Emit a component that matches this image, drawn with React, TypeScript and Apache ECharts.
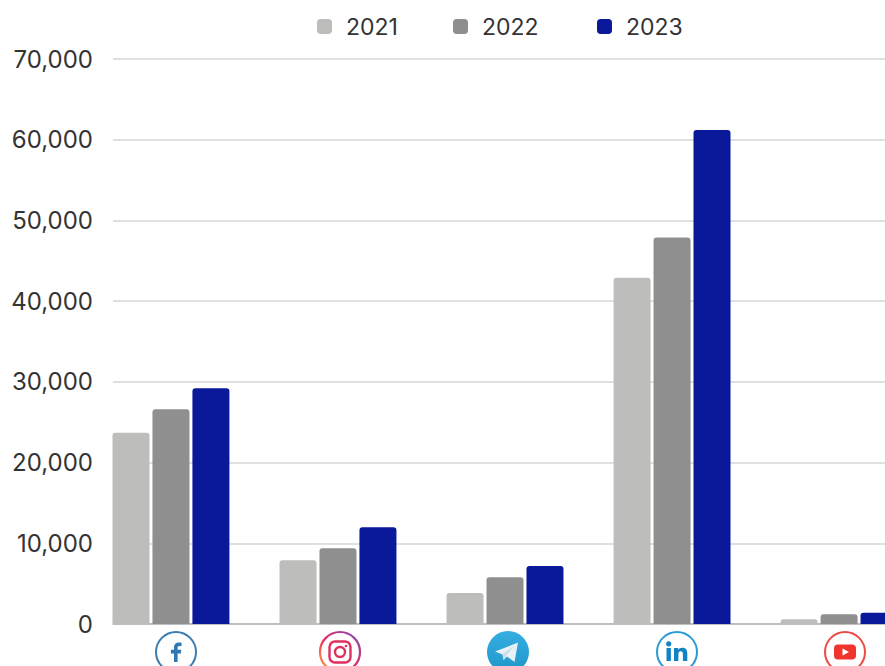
import React, { useEffect, useRef } from "react";
import * as echarts from "echarts";

const platforms = ["Facebook", "Instagram", "Telegram", "LinkedIn", "YouTube"];
const seriesNames = ["2021", "2022", "2023"];
const values2021 = [23700, 7900, 3850, 42900, 600];
const values2022 = [26600, 9400, 5800, 47900, 1200];
const values2023 = [29200, 12000, 7200, 61200, 1400];
const yTicks = [0, 10000, 20000, 30000, 40000, 50000, 60000, 70000];

const svg = (body: string) =>
  "data:image/svg+xml;charset=utf-8," +
  encodeURIComponent(`<svg xmlns="http://www.w3.org/2000/svg" width="44" height="44" viewBox="0 0 44 44">${body}</svg>`);

const iconFacebook = svg(
  `<circle cx="22" cy="22" r="20" fill="#fff" stroke="#3b7cb0" stroke-width="2"/><path d="M23.6 32V23.4h3.2l.5-3.6h-3.7v-2.1c0-1.1.4-1.8 1.9-1.8h2V12.7c-.5-.1-1.6-.2-2.8-.2-2.8 0-4.7 1.7-4.7 4.7v2.6h-3.1v3.6h3.1V32z" fill="#2f78b2"/>`
);
const iconInstagram = svg(
  `<defs><linearGradient id="g" x1="0" y1="1" x2="1" y2="0"><stop offset="0" stop-color="#fdb23c"/><stop offset="0.45" stop-color="#ee2a5f"/><stop offset="1" stop-color="#7f4bb8"/></linearGradient></defs><circle cx="22" cy="22" r="20" fill="#fff" stroke="url(#g)" stroke-width="2.2"/><rect x="11.5" y="11.5" width="21" height="21" rx="5.5" fill="none" stroke="#e0305f" stroke-width="2.4"/><circle cx="22" cy="22" r="5" fill="none" stroke="#e0305f" stroke-width="2.4"/><circle cx="28" cy="16" r="1.3" fill="#d0307a"/>`
);
const iconTelegram = svg(
  `<defs><linearGradient id="t" x1="0.5" y1="0" x2="0.5" y2="1"><stop offset="0" stop-color="#37aee2"/><stop offset="1" stop-color="#1e96c8"/></linearGradient></defs><circle cx="22" cy="22" r="21" fill="url(#t)"/><path d="M9 21.5 32 12.5 28.5 32 21 26.5 17.5 30 16.5 24.5z" fill="#e6f1f8"/><path d="M16.5 24.5 28 16 20 25.5 17.5 30z" fill="#c8dae8"/>`
);
const iconLinkedIn = svg(
  `<circle cx="22" cy="22" r="20" fill="#fff" stroke="#2a9bd6" stroke-width="2"/><rect x="11.5" y="18" width="4.4" height="13" fill="#1282c4"/><circle cx="13.7" cy="13.8" r="2.6" fill="#1282c4"/><path d="M19 18h4.2v1.9c.8-1.3 2.2-2.2 4.2-2.2 3.4 0 4.9 2.1 4.9 5.6V31h-4.4v-7c0-1.8-.6-2.8-2.2-2.8-1.6 0-2.3 1.1-2.3 2.8v7H19z" fill="#1282c4"/>`
);
const iconYouTube = svg(
  `<circle cx="22" cy="22" r="20" fill="#fff" stroke="#ef4b45" stroke-width="2"/><rect x="11" y="14.5" width="22" height="15" rx="4" fill="#f0352e"/><path d="M19.5 18.5 26 22l-6.5 3.5z" fill="#fff"/>`
);
const icons = [iconFacebook, iconInstagram, iconTelegram, iconLinkedIn, iconYouTube];
const iconCentres = [176, 340, 508, 677, 845];
const legendLefts = [317, 453, 597];

const FONT = "Inter";

export default function App() {
  const ref = useRef<HTMLDivElement>(null);
  useEffect(() => {
    document.body.style.margin = "0";
    const chart = echarts.init(ref.current!, null, { renderer: "svg" });
    const bar = (name: string, data: number[], color: string) => ({
      name,
      type: "bar" as const,
      data: data.map((v, i) => [i, v]),
      barWidth: 37,
      barGap: "8%",
      itemStyle: { color, borderRadius: [3, 3, 0, 0] },
    });
    chart.setOption({
      animation: false,
      backgroundColor: "#fff",
      textStyle: { fontFamily: FONT },
      legend: seriesNames.map((name, i) => ({
        left: legendLefts[i],
        top: 15,
        padding: 0,
        itemWidth: 15,
        itemHeight: 15,
        icon: "roundRect",
        data: [name],
        textStyle: { fontFamily: FONT, fontSize: 23, color: "#333", padding: [0, 0, 0, 9] },
      })),
      grid: { left: 113, right: 0, top: 59, bottom: 42 },
      // Each platform occupies one unit (167 px); the view starts just left of the first group
      // and is cut off by the right edge, as in the reference.
      xAxis: {
        type: "value",
        min: -0.347,
        max: 4.275,
        axisLine: { show: true, onZero: false, lineStyle: { color: "#b3b3b3", width: 1.5 } },
        axisTick: { show: false },
        axisLabel: { show: false },
        splitLine: { show: false },
      },
      yAxis: {
        type: "value",
        min: yTicks[0],
        max: yTicks[yTicks.length - 1],
        interval: yTicks[1] - yTicks[0],
        axisLine: { show: false },
        axisTick: { show: false },
        axisLabel: {
          margin: 20,
          fontFamily: FONT,
          fontSize: 24,
          color: "#333",
          formatter: (v: number) => v.toLocaleString("en-US"),
        },
        splitLine: { lineStyle: { color: "#d6d6d6", width: 1.5 } },
      },
      series: [
        bar(seriesNames[0], values2021, "#bdbdbb"),
        bar(seriesNames[1], values2022, "#8f8f8f"),
        bar(seriesNames[2], values2023, "#0a189a"),
      ],
      graphic: icons.map((image, i) => ({
        type: "image",
        name: platforms[i],
        left: iconCentres[i] - 22,
        top: 630,
        style: { image, width: 44, height: 44 },
      })),
    });
    return () => chart.dispose();
  }, []);
  return <div ref={ref} style={{ position: "absolute", left: 0, top: 0, width: 885, height: 666 }} />;
}
